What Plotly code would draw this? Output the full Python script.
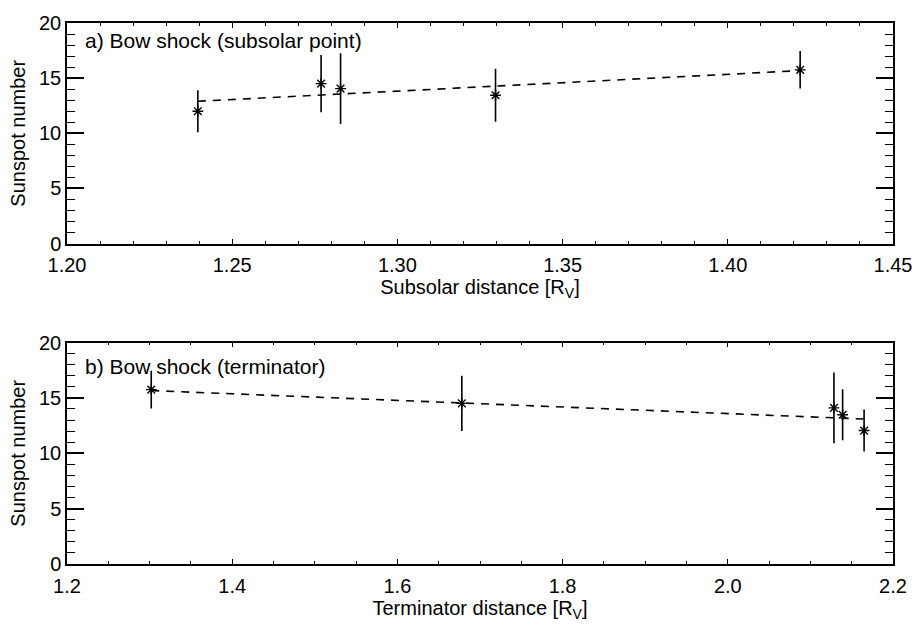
import plotly.graph_objects as go
from plotly.subplots import make_subplots

# Data
sunspot = [12.0, 14.5, 14.05, 13.45, 15.75]
sunspot_err = [1.9, 2.6, 3.2, 2.4, 1.7]
subsolar_dist = [1.2396, 1.2769, 1.2828, 1.3297, 1.4219]
terminator_dist = [2.165, 1.678, 2.1285, 2.139, 1.302]
term_sunspot = [12.05, 14.5, 14.1, 13.48, 15.75]
term_err = [1.9, 2.5, 3.2, 2.3, 1.7]

fit_a_x = [1.2396, 1.4219]
fit_a_y = [12.9, 15.68]
fit_b_x = [1.302, 2.165]
fit_b_y = [15.66, 13.09]

FONT = "Liberation Sans, Arial, Helvetica, sans-serif"

fig = make_subplots(rows=2, cols=1, vertical_spacing=0.0)

for r, (fx, fy, px, py, pe) in enumerate([
    (fit_a_x, fit_a_y, subsolar_dist, sunspot, sunspot_err),
    (fit_b_x, fit_b_y, terminator_dist, term_sunspot, term_err),
], start=1):
    fig.add_trace(go.Scatter(x=fx, y=fy, mode="lines",
                             line=dict(color="black", width=1.6, dash="8px,7px"),
                             showlegend=False, hoverinfo="skip"), row=r, col=1)
    fig.add_trace(go.Scatter(x=px, y=py, mode="markers",
                             marker=dict(symbol="asterisk-open", size=9, color="black",
                                         line=dict(color="black", width=1.4)),
                             error_y=dict(type="data", array=pe, visible=True,
                                          color="black", thickness=1.6, width=0),
                             showlegend=False), row=r, col=1)

common_axis = dict(showline=True, linecolor="black", linewidth=1.5, mirror="ticks",
                   ticks="inside", tickcolor="black", showgrid=False, zeroline=False,
                   tickfont=dict(family=FONT, size=20, color="black"))

fig.update_layout(
    width=924, height=624,
    margin=dict(l=67, r=18, t=13, b=59),
    paper_bgcolor="white", plot_bgcolor="white",
    font=dict(family=FONT, size=20, color="black"),
    xaxis=dict(domain=[0, 1], range=[1.20, 1.45], dtick=0.05, tick0=1.2, tickformat=".2f",
               ticklen=5, tickwidth=1.2, ticklabelstandoff=3,
               minor=dict(dtick=0.01, ticks="inside", ticklen=3, tickcolor="black", tickwidth=1),
               title=dict(text="Subsolar distance [R<sub>V</sub>]", font=dict(size=20), standoff=1),
               **common_axis),
    yaxis=dict(domain=[0.5924, 1.0], range=[0, 20], dtick=5, ticklen=17, tickwidth=1.5,
               minor=dict(dtick=1, ticks="inside", ticklen=8, tickcolor="black", tickwidth=1),
               title=dict(text="Sunspot number", font=dict(size=20), standoff=8),
               **common_axis),
    xaxis2=dict(domain=[0, 1], range=[1.2, 2.2], dtick=0.2, tick0=1.2, tickformat=".1f",
                ticklen=5, tickwidth=1.2, ticklabelstandoff=3,
                minor=dict(dtick=0.05, ticks="inside", ticklen=3, tickcolor="black", tickwidth=1),
                title=dict(text="Terminator distance [R<sub>V</sub>]", font=dict(size=20), standoff=1),
                **common_axis),
    yaxis2=dict(domain=[0.0, 0.4094], range=[0, 20], dtick=5, ticklen=17, tickwidth=1.5,
                minor=dict(dtick=1, ticks="inside", ticklen=8, tickcolor="black", tickwidth=1),
                title=dict(text="Sunspot number", font=dict(size=20), standoff=8),
                **common_axis),
)

fig.add_annotation(text="a) Bow shock (subsolar point)", xref="x domain", yref="y domain",
                   x=0.019, y=0.92, xanchor="left", yanchor="middle", showarrow=False,
                   font=dict(family=FONT, size=21, color="black"))
fig.add_annotation(text="b) Bow shock (terminator)", xref="x2 domain", yref="y2 domain",
                   x=0.019, y=0.89, xanchor="left", yanchor="middle", showarrow=False,
                   font=dict(family=FONT, size=21, color="black"))

fig.write_html("out.html")
